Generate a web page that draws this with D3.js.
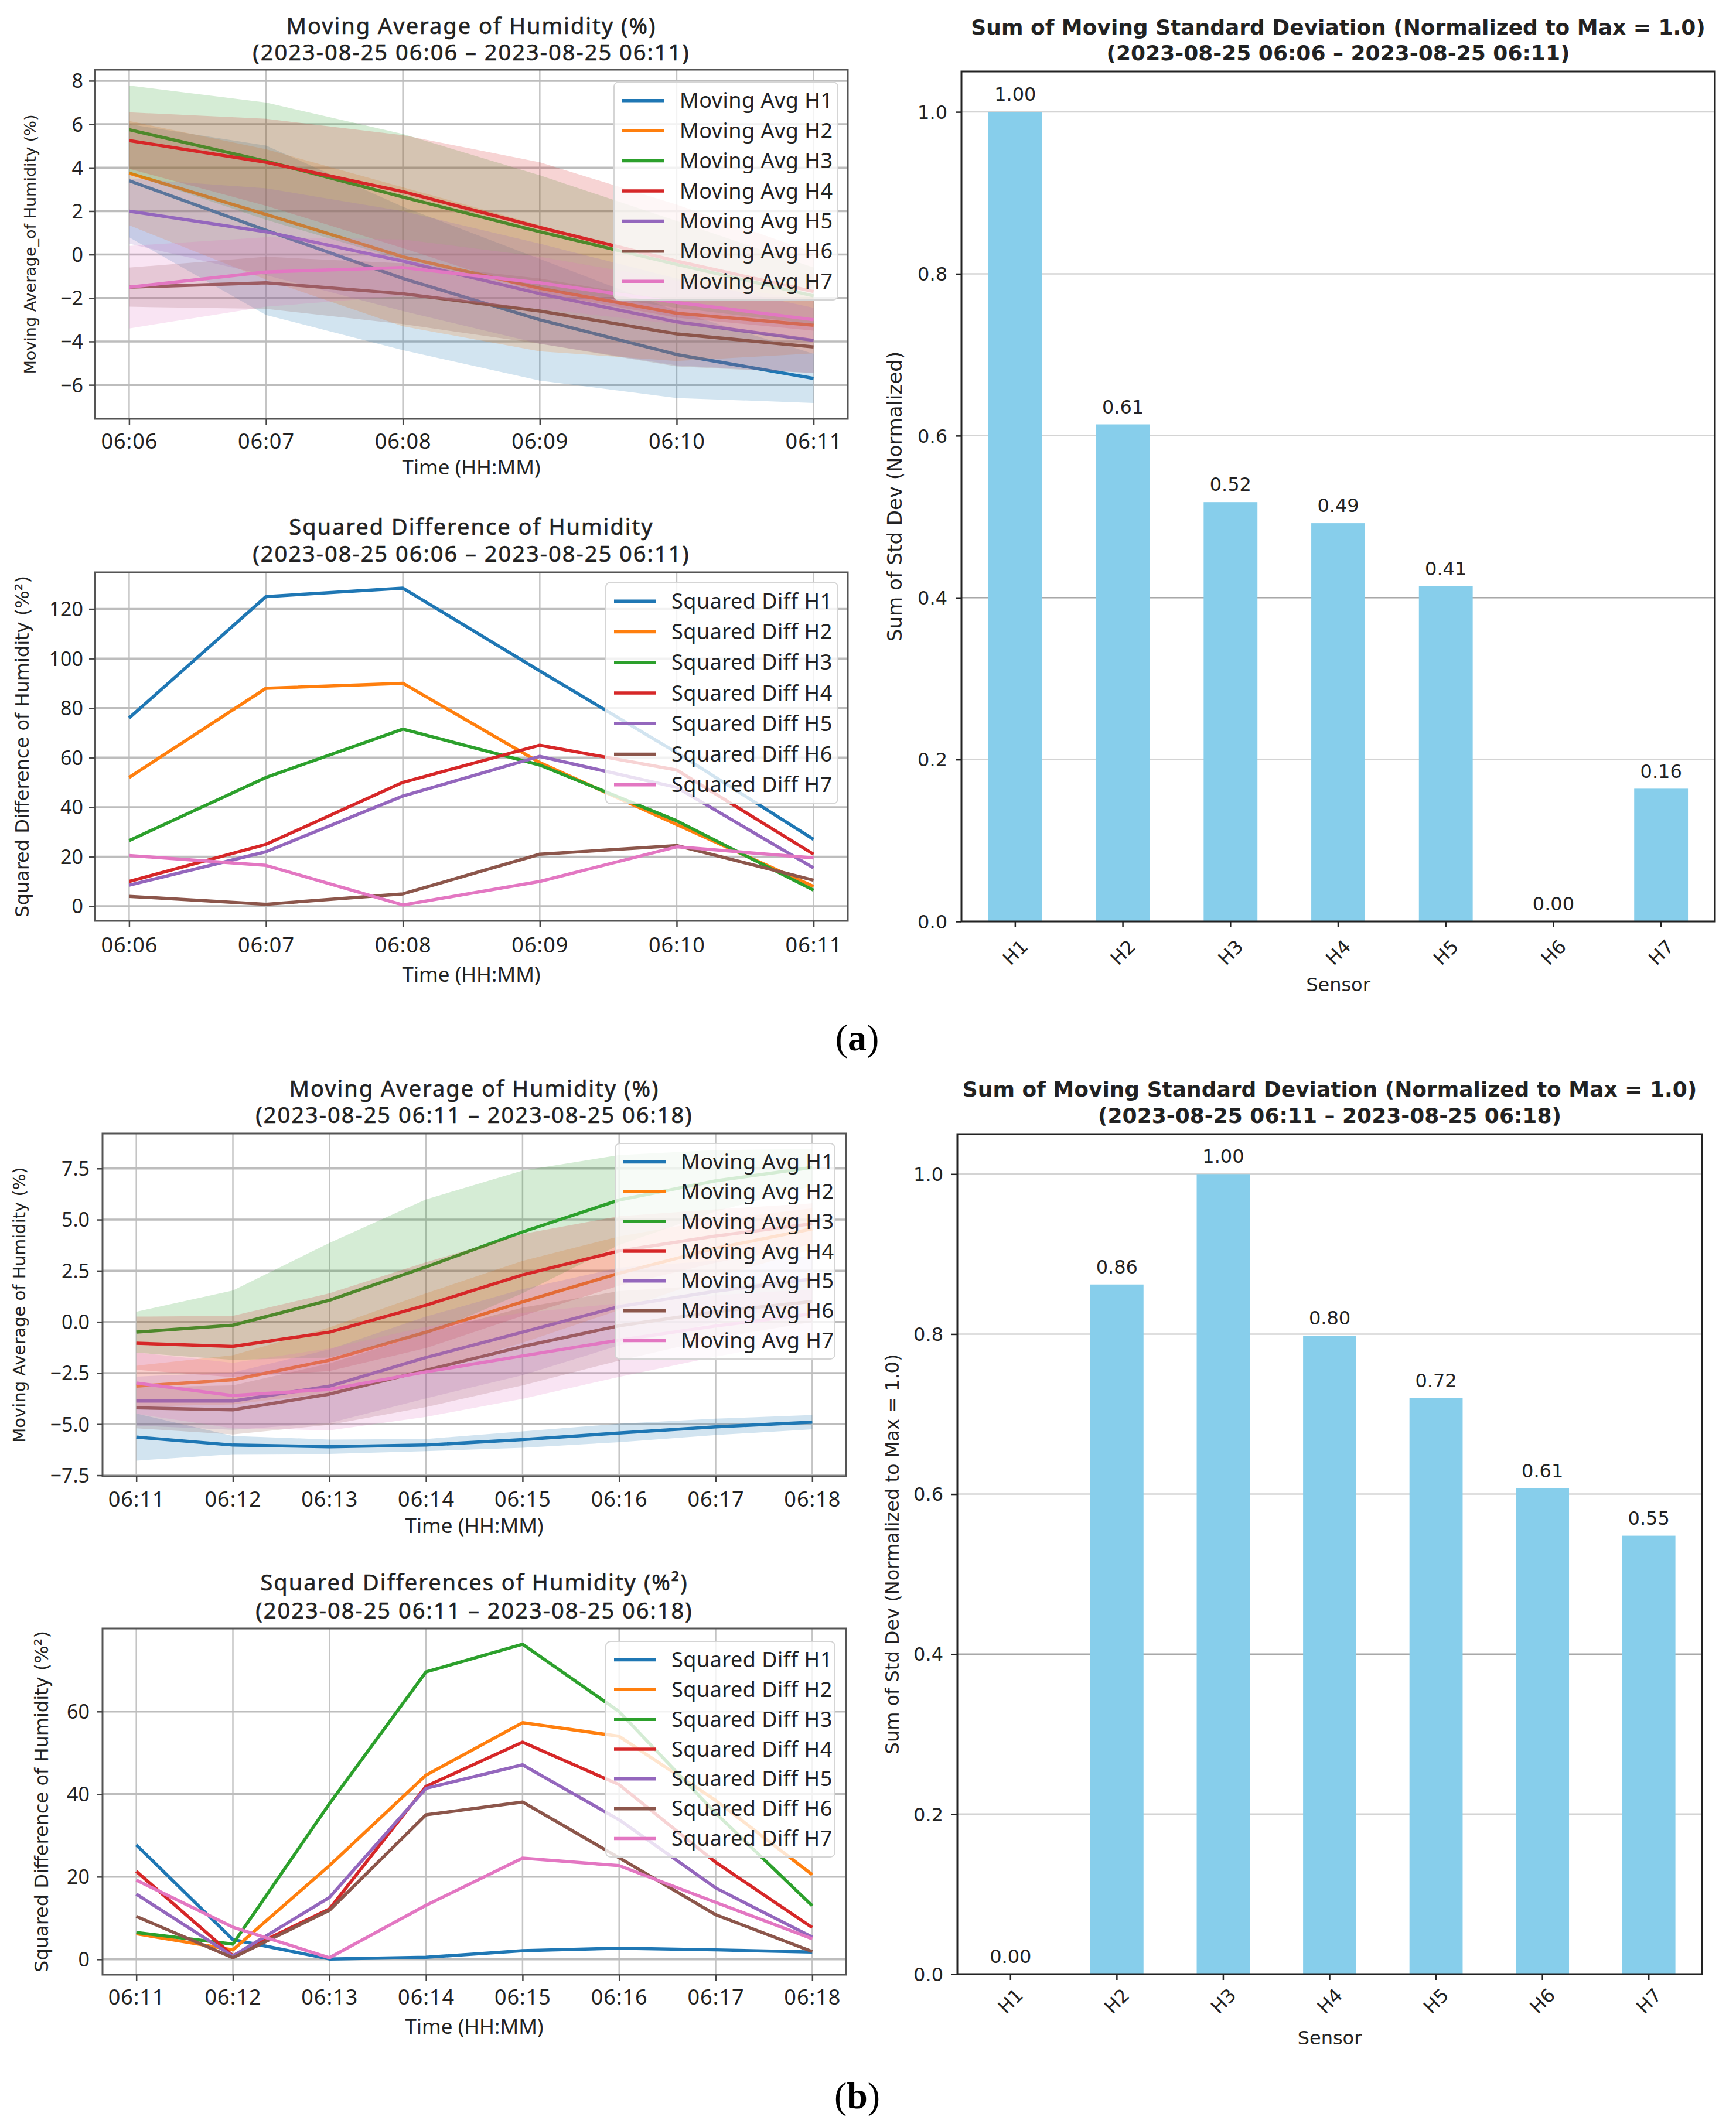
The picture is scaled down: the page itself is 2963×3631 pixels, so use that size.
<!DOCTYPE html>
<html>
<head>
<meta charset="utf-8">
<script src="https://cdn.jsdelivr.net/npm/d3@7"></script>
<style>
  body { margin: 0; background: #fff; }
  text { fill: #222; }
</style>
</head>
<body>
<svg id="fig" width="2963" height="3631"></svg>
<script>
// ---- data ----
const sensors = ["H1", "H2", "H3", "H4", "H5", "H6", "H7"];
const colors = ["#1f77b4", "#ff7f0e", "#2ca02c", "#d62728", "#9467bd", "#8c564b", "#e377c2"];

const timesA = ["06:06", "06:07", "06:08", "06:09", "06:10", "06:11"];
const timesB = ["06:11", "06:12", "06:13", "06:14", "06:15", "06:16", "06:17", "06:18"];

// moving average (a), one row per sensor
const movAvgA = [
  [3.4, 1.12, -1.1, -3.0, -4.6, -5.7],
  [3.75, 1.85, -0.1, -1.55, -2.7, -3.25],
  [5.75, 4.3, 2.65, 1.05, -0.45, -1.9],
  [5.25, 4.25, 2.9, 1.25, -0.3, -1.7],
  [2.0, 1.05, -0.3, -1.8, -3.1, -3.95],
  [-1.5, -1.3, -1.8, -2.6, -3.65, -4.25],
  [-1.5, -0.8, -0.6, -1.3, -2.2, -3.0]
];
const movStdA = [
  [2.6, 3.9, 3.3, 2.8, 2.0, 1.13],
  [2.4, 3.0, 3.2, 2.9, 2.2, 1.3],
  [2.03, 2.7, 2.9, 2.6, 2.0, 1.3],
  [1.3, 2.0, 2.6, 3.0, 2.6, 1.8],
  [1.5, 2.0, 2.3, 2.3, 2.0, 1.5],
  [0.9, 1.2, 1.4, 1.5, 1.5, 1.2],
  [1.9, 1.6, 1.3, 1.2, 1.0, 0.9]
];

// squared difference (a)
const sqDiffA = [
  [76, 125, 128.4, 95, 62, 27],
  [52, 88, 90, 58, 33, 8],
  [26.5, 52, 71.5, 57, 34.5, 6.5],
  [10, 25, 50, 65, 55, 21],
  [8.5, 22, 44.5, 60.5, 48, 15.5],
  [4, 0.8, 5, 21, 24.5, 10.5],
  [20.5, 16.5, 0.5, 10, 24, 19.5]
];

// sum of moving std, normalized (a)
const stdSumA = [1.0, 0.614, 0.518, 0.492, 0.414, 0.0, 0.164];

// moving average (b)
const movAvgB = [
  [-5.63, -6.02, -6.1, -6.02, -5.75, -5.43, -5.13, -4.9],
  [-3.14, -2.83, -1.87, -0.5, 0.98, 2.38, 3.6, 4.55],
  [-0.5, -0.16, 1.06, 2.69, 4.4, 5.96, 6.9, 7.55],
  [-1.04, -1.2, -0.5, 0.82, 2.3, 3.47, 4.2, 4.8],
  [-3.87, -3.87, -3.14, -1.74, -0.5, 0.75, 1.5, 2.1],
  [-4.2, -4.3, -3.53, -2.36, -1.2, -0.19, 0.5, 1.0],
  [-2.99, -3.6, -3.3, -2.44, -1.66, -0.89, -0.2, 0.4]
];
const movStdB = [
  [1.15, 0.45, 0.35, 0.3, 0.4, 0.45, 0.4, 0.35],
  [1.0, 1.2, 1.6, 1.9, 2.0, 1.8, 1.4, 1.0],
  [1.0, 1.7, 2.8, 3.3, 3.0, 2.2, 1.5, 0.9],
  [1.3, 1.5, 1.9, 2.1, 2.0, 1.7, 1.3, 1.0],
  [1.2, 1.4, 1.8, 2.0, 2.1, 1.9, 1.5, 1.1],
  [1.0, 1.2, 1.5, 1.8, 1.9, 1.7, 1.3, 1.0],
  [1.5, 1.6, 2.0, 2.2, 2.1, 1.8, 1.5, 1.2]
];

// squared difference (b)
const sqDiffB = [
  [27.7, 4.8, 0.1, 0.5, 2.1, 2.7, 2.3, 1.8],
  [6.2, 2.3, 22.7, 44.6, 57.3, 54, 38.5, 20.5],
  [6.5, 3.7, 37.7, 69.6, 76.3, 60, 35.4, 13],
  [21.3, 0.9, 12.2, 41.9, 52.6, 42.3, 23.5, 7.7],
  [15.8, 0.8, 15, 41.4, 47.1, 33.8, 17.3, 5.4],
  [10.4, 0.4, 11.9, 35, 38.1, 24.6, 10.8, 1.9],
  [19.2, 7.8, 0.4, 13.1, 24.5, 22.7, 13.8, 5]
];

// sum of moving std, normalized (b)
const stdSumB = [0.0, 0.862, 1.0, 0.798, 0.72, 0.607, 0.548];

// tick values
const yTicksMovA = [-6, -4, -2, 0, 2, 4, 6, 8];
const yTicksSqA = [0, 20, 40, 60, 80, 100, 120];
const yTicksMovB = [-7.5, -5.0, -2.5, 0.0, 2.5, 5.0, 7.5];
const yTicksSqB = [0, 20, 40, 60];
const yTicksBar = [0.0, 0.2, 0.4, 0.6, 0.8, 1.0];

const svg = d3.select("#fig");
svg.append("rect").attr("width", 2963).attr("height", 3631).attr("fill", "#fff");

const lineFont = "'Noto Sans', 'Open Sans', sans-serif";
const barFont = "'DejaVu Sans', sans-serif";

function linePanel(p) {
  const g = svg.append("g");
  const n = p.times.length;
  const pad = 0.05 * (n - 1);
  const x = d3.scaleLinear().domain([-pad, n - 1 + pad]).range([p.l, p.r]);

  // autoscale like matplotlib (5% margins around data incl. bands)
  const lo = [], hi = [];
  p.mean.forEach((s, k) => s.forEach((v, i) => {
    const e = p.std ? p.std[k][i] : 0;
    lo.push(v - e); hi.push(v + e);
  }));
  const mn = d3.min(lo), mx = d3.max(hi), m = 0.05 * (mx - mn);
  const y = d3.scaleLinear().domain([mn - m, mx + m]).range([p.b, p.t]);

  // grid
  g.append("g").selectAll("line").data(d3.range(n)).join("line")
      .attr("x1", d => x(d)).attr("x2", d => x(d))
      .attr("y1", p.t).attr("y2", p.b)
      .attr("stroke", "#c4c4c4").attr("stroke-width", 2.5);
  g.append("g").selectAll("line").data(p.yticks).join("line")
      .attr("x1", p.l).attr("x2", p.r)
      .attr("y1", d => y(d)).attr("y2", d => y(d))
      .attr("stroke", "#bdbdbd").attr("stroke-width", 3.5);

  // series
  const line = d3.line().x((d, i) => x(i)).y(d => y(d));
  p.mean.forEach((s, k) => {
    g.append("path").datum(s)
        .attr("d", line)
        .attr("fill", "none")
        .attr("stroke", colors[k])
        .attr("stroke-width", 5.5)
        .attr("stroke-linejoin", "round");
    if (p.std) {
      const area = d3.area()
          .x((d, i) => x(i))
          .y0((d, i) => y(d - p.std[k][i]))
          .y1((d, i) => y(d + p.std[k][i]));
      g.append("path").datum(s)
          .attr("d", area)
          .attr("fill", colors[k])
          .attr("fill-opacity", 0.2);
    }
  });

  // frame
  g.append("rect")
      .attr("x", p.l).attr("y", p.t)
      .attr("width", p.r - p.l).attr("height", p.b - p.t)
      .attr("fill", "none").attr("stroke", "#555").attr("stroke-width", 3);

  // axes
  const ax = g.append("g")
      .attr("transform", `translate(0,${p.b})`)
      .call(d3.axisBottom(x).tickValues(d3.range(n)).tickFormat(i => p.times[i]).tickSize(10));
  const ay = g.append("g")
      .attr("transform", `translate(${p.l},0)`)
      .call(d3.axisLeft(y).tickValues(p.yticks).tickFormat(p.yfmt).tickSize(10));
  [ax, ay].forEach(a => {
    a.select(".domain").remove();
    a.selectAll("line").attr("stroke", "#444").attr("stroke-width", 2.5);
    a.selectAll("text")
        .attr("font-family", lineFont)
        .attr("fill", "#222").attr("dy", "0.35em");
  });
  ax.selectAll("text").attr("y", p.xtickY).attr("font-size", 36).attr("letter-spacing", 1);
  ay.selectAll("text").attr("x", -p.ytickX).attr("font-size", 34);

  // labels
  g.append("text")
      .attr("x", (p.l + p.r) / 2).attr("y", p.b + p.xlabY).attr("dy", "0.35em")
      .attr("text-anchor", "middle")
      .attr("font-family", lineFont).attr("font-size", 35)
      .text("Time (HH:MM)");
  g.append("text")
      .attr("transform", `translate(${p.ylabX},${(p.t + p.b) / 2}) rotate(-90)`)
      .attr("dy", "0.35em")
      .attr("text-anchor", "middle")
      .attr("font-family", barFont).attr("font-size", p.ylabSize)
      .text(p.ylabel);
  p.title.forEach((t, i) => {
    g.append("text")
        .attr("x", (p.l + p.r) / 2).attr("y", p.titleY[i]).attr("dy", "0.35em")
        .attr("text-anchor", "middle")
        .attr("font-family", lineFont).attr("font-size", 38)
        .attr("letter-spacing", 2)
        .attr("stroke", "#222").attr("stroke-width", 0.6)
        .text(t);
  });

  // legend
  const [x0, y0, x1, y1] = p.legend;
  g.append("rect")
      .attr("x", x0).attr("y", y0).attr("width", x1 - x0).attr("height", y1 - y0)
      .attr("rx", 8)
      .attr("fill", "#fff").attr("fill-opacity", 0.8)
      .attr("stroke", "#d5d5d5").attr("stroke-width", 2);
  const step = (y1 - y0 - 2 * p.legPad) / sensors.length;
  sensors.forEach((s, k) => {
    const cy = y0 + p.legPad + step * (k + 0.5);
    g.append("line")
        .attr("x1", x0 + 14).attr("x2", x0 + 86)
        .attr("y1", cy).attr("y2", cy)
        .attr("stroke", colors[k]).attr("stroke-width", 5.5);
    g.append("text")
        .attr("x", x0 + 112).attr("y", cy).attr("dy", "0.35em")
        .attr("font-family", lineFont).attr("font-size", 36)
        .attr("letter-spacing", 0.5)
        .text(p.legPrefix + s);
  });
}

function barPanel(p) {
  const g = svg.append("g");
  const x = d3.scaleBand().domain(sensors).range([p.l, p.r]).paddingInner(0.5).paddingOuter(0.25);
  const y = d3.scaleLinear().domain([0, 1.05]).range([p.b, p.t]);

  g.append("g").selectAll("line").data(yTicksBar).join("line")
      .attr("x1", p.l).attr("x2", p.r)
      .attr("y1", d => y(d)).attr("y2", d => y(d))
      .attr("stroke", d => d === 0.4 ? "#a8a8a8" : "#d4d4d4").attr("stroke-width", 2.5);

  g.append("g").selectAll("rect").data(p.values).join("rect")
      .attr("x", (d, i) => x(sensors[i]))
      .attr("width", x.bandwidth())
      .attr("y", d => y(d))
      .attr("height", d => y(0) - y(d))
      .attr("fill", "#87ceeb");

  g.append("g").selectAll("text").data(p.values).join("text")
      .attr("x", (d, i) => x(sensors[i]) + x.bandwidth() / 2)
      .attr("y", d => y(d) - 30).attr("dy", "0.35em")
      .attr("text-anchor", "middle")
      .attr("font-family", barFont).attr("font-size", 32)
      .text(d => d3.format(".2f")(d));

  g.append("rect")
      .attr("x", p.l).attr("y", p.t)
      .attr("width", p.r - p.l).attr("height", p.b - p.t)
      .attr("fill", "none").attr("stroke", "#222").attr("stroke-width", 3);

  const ax = g.append("g")
      .attr("transform", `translate(0,${p.b})`)
      .call(d3.axisBottom(x).tickSize(10));
  const ay = g.append("g")
      .attr("transform", `translate(${p.l},0)`)
      .call(d3.axisLeft(y).tickValues(yTicksBar).tickFormat(d3.format(".1f")).tickSize(10));
  [ax, ay].forEach(a => {
    a.select(".domain").remove();
    a.selectAll("line").attr("stroke", "#222").attr("stroke-width", 2.5);
    a.selectAll("text")
        .attr("font-family", barFont).attr("font-size", 32)
        .attr("fill", "#222");
  });
  ax.selectAll("text")
      .attr("y", 0).attr("dy", "0.35em")
      .attr("text-anchor", "middle")
      .attr("transform", `translate(0,${p.xtickY}) rotate(-45)`);
  ay.selectAll("text").attr("x", -p.ytickX).attr("dy", "0.35em");

  g.append("text")
      .attr("x", (p.l + p.r) / 2).attr("y", p.sensorY).attr("dy", "0.35em")
      .attr("text-anchor", "middle")
      .attr("font-family", barFont).attr("font-size", 32)
      .text("Sensor");
  g.append("text")
      .attr("transform", `translate(${p.ylabX},${(p.t + p.b) / 2}) rotate(-90)`)
      .attr("dy", "0.35em")
      .attr("text-anchor", "middle")
      .attr("font-family", barFont).attr("font-size", p.ylabSize)
      .text(p.ylabel);
  p.title.forEach((t, i) => {
    g.append("text")
        .attr("x", (p.l + p.r) / 2).attr("y", p.titleY[i]).attr("dy", "0.35em")
        .attr("text-anchor", "middle")
        .attr("font-family", barFont).attr("font-size", 36)
        .attr("font-weight", "bold")
        .attr("fill", "#333")
        .text(t);
  });
}

const fmtInt = d3.format("d");
const fmt1 = d3.format(".1f");

// (a)
linePanel({
  l: 162, r: 1447, t: 119, b: 715,
  times: timesA, mean: movAvgA, std: movStdA,
  yticks: yTicksMovA, yfmt: fmtInt,
  xtickY: 38, xlabY: 83, ytickX: 20, ylabX: 52, ylabSize: 27,
  title: ["Moving Average of Humidity (%)", "(2023-08-25 06:06 – 2023-08-25 06:11)"],
  titleY: [45, 90],
  ylabel: "Moving Average_of Humidity (%)",
  legend: [1048, 140, 1430, 512], legPad: 6, legPrefix: "Moving Avg "
});
linePanel({
  l: 162, r: 1447, t: 977, b: 1572,
  times: timesA, mean: sqDiffA, std: null,
  yticks: yTicksSqA, yfmt: fmtInt,
  xtickY: 41, xlabY: 92, ytickX: 20, ylabX: 38, ylabSize: 32,
  title: ["Squared Difference of Humidity", "(2023-08-25 06:06 – 2023-08-25 06:11)"],
  titleY: [900, 946],
  ylabel: "Squared Difference of Humidity (%²)",
  legend: [1034, 994, 1430, 1372], legPad: 6, legPrefix: "Squared Diff "
});
barPanel({
  l: 1641, r: 2927, t: 122, b: 1573,
  values: stdSumA,
  xtickY: 53, ytickX: 24, sensorY: 1681, ylabX: 1527, ylabSize: 34,
  title: ["Sum of Moving Standard Deviation (Normalized to Max = 1.0)", "(2023-08-25 06:06 – 2023-08-25 06:11)"],
  titleY: [46, 90],
  ylabel: "Sum of Std Dev (Normalized)"
});

// (b)
linePanel({
  l: 175, r: 1444, t: 1935, b: 2520,
  times: timesB, mean: movAvgB, std: movStdB,
  yticks: yTicksMovB, yfmt: fmt1,
  xtickY: 39, xlabY: 85, ytickX: 22, ylabX: 33, ylabSize: 29,
  title: ["Moving Average of Humidity (%)", "(2023-08-25 06:11 – 2023-08-25 06:18)"],
  titleY: [1859, 1904],
  ylabel: "Moving Average of Humidity (%)",
  legend: [1050, 1952, 1425, 2320], legPad: 6, legPrefix: "Moving Avg "
});
linePanel({
  l: 175, r: 1444, t: 2780, b: 3371,
  times: timesB, mean: sqDiffB, std: null,
  yticks: yTicksSqB, yfmt: fmtInt,
  xtickY: 38, xlabY: 89, ytickX: 22, ylabX: 71, ylabSize: 32,
  title: ["Squared Differences of Humidity (%²)", "(2023-08-25 06:11 – 2023-08-25 06:18)"],
  titleY: [2702, 2750],
  ylabel: "Squared Difference of Humidity (%²)",
  legend: [1034, 2802, 1425, 3170], legPad: 6, legPrefix: "Squared Diff "
});
barPanel({
  l: 1634, r: 2905, t: 1936, b: 3370,
  values: stdSumB,
  xtickY: 46, ytickX: 24, sensorY: 3479, ylabX: 1523, ylabSize: 32,
  title: ["Sum of Moving Standard Deviation (Normalized to Max = 1.0)", "(2023-08-25 06:11 – 2023-08-25 06:18)"],
  titleY: [1859, 1904],
  ylabel: "Sum of Std Dev (Normalized to Max = 1.0)"
});

// sub-figure captions
[["a", 1771], ["b", 3577]].forEach(([c, yy]) => {
  const t = svg.append("text")
      .attr("x", 1463).attr("y", yy).attr("dy", "0.35em")
      .attr("text-anchor", "middle")
      .attr("font-family", "'Liberation Serif', serif").attr("font-size", 64)
      .style("fill", "#000");
  t.append("tspan").text("(");
  t.append("tspan").attr("font-weight", "bold").text(c);
  t.append("tspan").text(")");
});
</script>
</body>
</html>
